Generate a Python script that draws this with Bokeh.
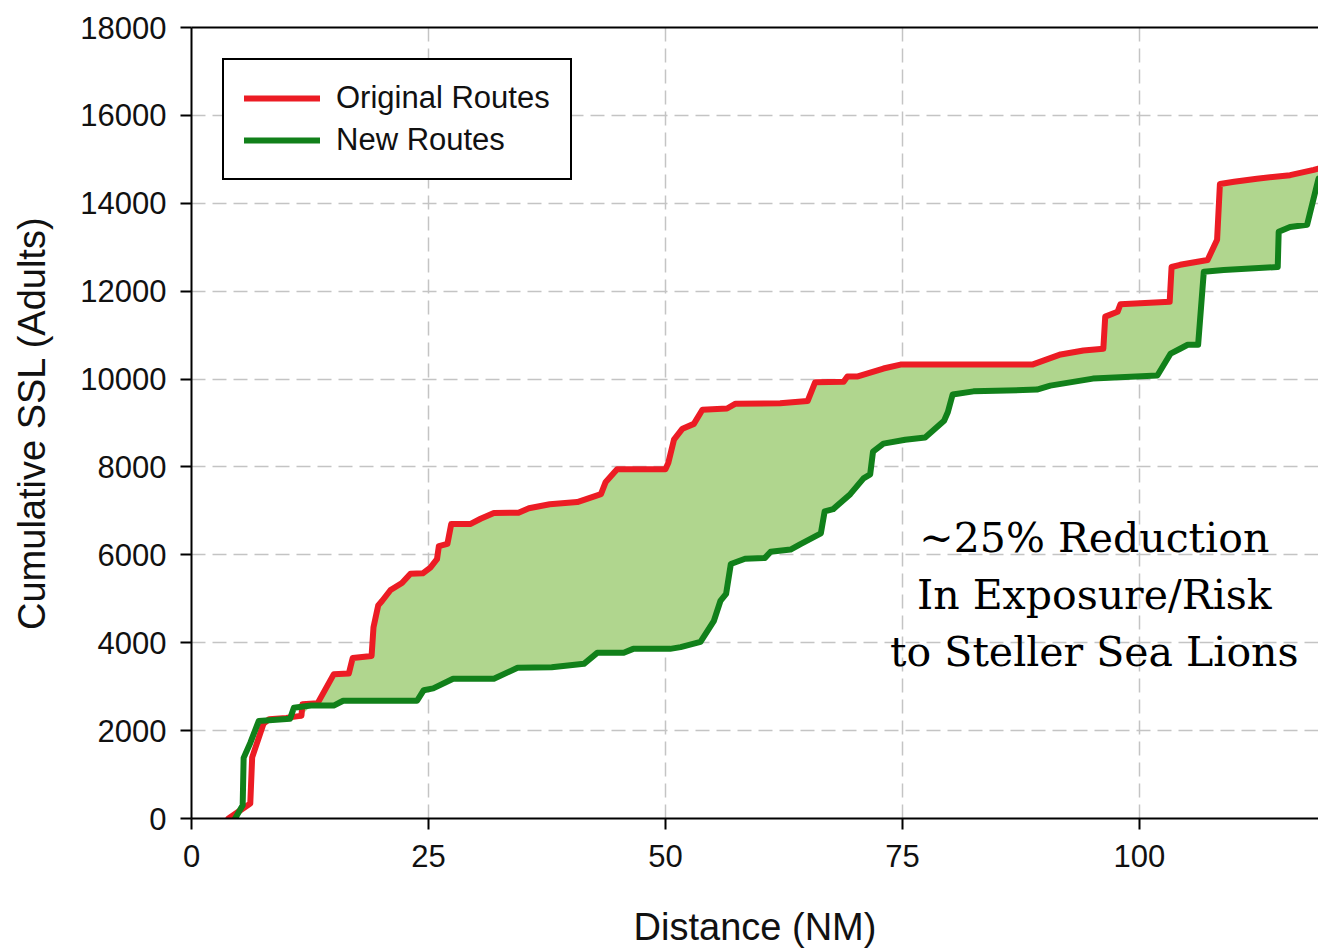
import numpy as np
from bokeh.plotting import figure
from bokeh.models import (Range1d, SingleIntervalTicker, FixedTicker, LinearAxis,
                          Legend, LegendItem, Label)
from bokeh.embed import file_html
from bokeh.resources import INLINE

# ---- data ----
orig_x = [3.9, 6.2, 6.4, 7.6, 8.2, 10.0, 11.3, 11.6, 11.7, 13.3, 15.0, 16.6, 17.0, 19.0, 19.2,
          19.7, 20.1, 21.0, 22.2, 23.1, 24.4, 25.2, 25.9, 26.1, 27.0, 27.4, 29.4, 30.5, 31.9,
          34.5, 35.6, 37.8, 40.7, 41.8, 43.2, 43.7, 44.9, 50.0, 50.3, 50.9, 51.8, 53.0, 53.9,
          56.5, 57.4, 62.1, 65.0, 65.8, 68.8, 69.2, 70.3, 73.0, 74.8, 88.7, 91.7, 94.1, 96.2,
          96.4, 97.7, 98.0, 103.2, 103.4, 104.3, 107.2, 108.2, 108.5, 110.0, 112.4, 115.9,
          118.4, 118.9]
orig_y = [0, 340, 1390, 2160, 2260, 2290, 2330, 2340, 2600, 2620, 3280, 3300, 3650, 3700, 4350,
          4850, 4950, 5200, 5360, 5570, 5580, 5710, 5900, 6200, 6250, 6700, 6700, 6820, 6950,
          6960, 7060, 7150, 7200, 7280, 7380, 7660, 7950, 7950, 8090, 8620, 8870, 8980, 9300,
          9330, 9440, 9450, 9500, 9930, 9940, 10060, 10060, 10240, 10330, 10330, 10560, 10650, 10690,
          11420, 11530, 11700, 11760, 12550, 12600, 12710, 13170, 14440, 14490, 14560, 14640,
          14760, 14790]

new_x = [4.6, 5.4, 5.5, 6.2, 7.1, 10.4, 10.8, 12.6, 15.0, 16.0, 23.8, 24.5, 25.5, 27.6, 31.9,
         34.4, 38.0, 41.4, 42.8, 45.6, 46.6, 50.5, 51.6, 53.7, 55.1, 55.8, 56.4, 56.9, 58.4,
         60.5, 61.1, 63.2, 64.2, 66.4, 66.8, 67.7, 69.5, 70.9, 71.6, 71.9, 73.0, 75.3, 77.4,
         79.4, 79.8, 80.3, 82.5, 89.2, 90.6, 95.1, 101.9, 103.3, 104.3, 105.1, 106.2, 106.8,
         108.9, 114.6, 114.7, 115.9, 117.7, 118.9]
new_y = [0, 300, 1380, 1720, 2220, 2270, 2520, 2570, 2570, 2680, 2680, 2920, 2960, 3180, 3180,
         3430, 3440, 3520, 3770, 3770, 3860, 3860, 3900, 4020, 4490, 4950, 5110, 5790, 5910,
         5930, 6070, 6120, 6240, 6490, 6990, 7040, 7380, 7740, 7830, 8350, 8530, 8620, 8670,
         9050, 9250, 9650, 9720, 9760, 9850, 10010, 10080, 10580, 10690, 10780, 10780, 12440,
         12480, 12550, 13350, 13460, 13510, 14560]

series_labels = ["Original Routes", "New Routes"]
annotation_lines = ["~25% Reduction", "In Exposure/Risk", "to Steller Sea Lions"]

RED = "#ec1c24"
GREEN = "#11801a"
FILL = "#b0d68e"
SANS = "Liberation Sans"

p = figure(width=1318, height=950,
           x_range=Range1d(0, 118.9), y_range=Range1d(0, 18000),
           output_backend="svg", toolbar_location=None,
           min_border_left=191, min_border_right=0, min_border_top=27, min_border_bottom=132,
           x_axis_label="Distance (NM)", y_axis_label="Cumulative SSL (Adults)")
p.outline_line_color = None
p.background_fill_color = "white"

# ---- shaded difference between the two curves ----
ox, oy = np.array(orig_x), np.array(orig_y)
nx, ny = np.array(new_x), np.array(new_y)
mo = ox >= 11.5
mn = nx >= 11.5
px = list(ox[mo]) + list(nx[mn][::-1])
py = list(oy[mo]) + list(ny[mn][::-1])
p.patch(px, py, fill_color=FILL, line_color=None)

r_red = p.line(orig_x, orig_y, line_color=RED, line_width=6, line_join="round", line_cap="round")
r_green = p.line(new_x, new_y, line_color=GREEN, line_width=6, line_join="round", line_cap="round")

# ---- axes ----
xt = SingleIntervalTicker(interval=25)
yt = SingleIntervalTicker(interval=2000)
p.xaxis.ticker = xt
p.yaxis.ticker = yt
p.xgrid.ticker = xt
p.ygrid.ticker = yt
for ax in (p.xaxis[0], p.yaxis[0]):
    ax.axis_line_width = 2
    ax.axis_line_color = "black"
    ax.major_tick_line_width = 2
    ax.major_tick_line_color = "black"
    ax.major_tick_out = 11
    ax.major_tick_in = 0
    ax.minor_tick_line_color = None
    ax.major_label_text_font = SANS
    ax.major_label_text_font_size = "31px"
    ax.major_label_text_color = "#111111"
    ax.axis_label_text_font = SANS
    ax.axis_label_text_font_size = "38px"
    ax.axis_label_text_font_style = "normal"
    ax.axis_label_text_color = "#111111"
p.yaxis.major_label_standoff = 14
p.yaxis.axis_label_standoff = 24
p.xaxis.major_label_standoff = 15
p.xaxis.axis_label_standoff = 36

top_axis = LinearAxis(ticker=FixedTicker(ticks=[]), axis_line_width=2, axis_line_color="black",
                      major_tick_line_color=None, minor_tick_line_color=None,
                      major_label_text_font_size="0px")
p.add_layout(top_axis, "above")

for g in (p.xgrid[0], p.ygrid[0]):
    g.grid_line_color = "#c4c4c4"
    g.grid_line_width = 1.5
    g.grid_line_dash = "14 7"

# ---- legend ----
legend = Legend(items=[LegendItem(label=series_labels[0], renderers=[r_red]),
                       LegendItem(label=series_labels[1], renderers=[r_green])],
                location="top_left", margin=31, padding=20, spacing=6,
                glyph_width=76, glyph_height=36, label_height=36, label_standoff=16,
                label_text_font=SANS, label_text_font_size="31px", label_text_color="#111111",
                border_line_color="black", border_line_width=2, border_line_alpha=1.0,
                background_fill_color="white", background_fill_alpha=1.0)
p.add_layout(legend)

# ---- annotation ----
ann_y = [6390, 5090, 3790]
for line_txt, yy in zip(annotation_lines, ann_y):
    p.add_layout(Label(x=95.25, y=yy, text=line_txt, text_align="center", text_baseline="middle",
                       text_font="DejaVu Serif", text_font_size="41px", text_color="black"))

open("out.html", "w").write(file_html(p, INLINE))
